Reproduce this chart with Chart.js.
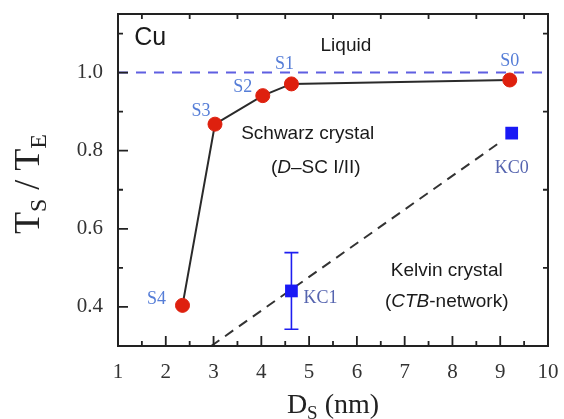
<!DOCTYPE html>
<html><head><meta charset="utf-8">
<script src="https://cdn.jsdelivr.net/npm/chart.js@4.4.1/dist/chart.umd.min.js"></script>
<style>html,body{margin:0;padding:0;background:#fff;}#wrap{width:564px;height:419px;}</style>
</head><body><div id="wrap"><canvas id="c" width="564" height="419"></canvas></div>
<script>
// ---- data ----
const schwarzNames = ['S4', 'S3', 'S2', 'S1', 'S0'];
const schwarzSize = [2.35, 3.03, 4.03, 4.63, 9.2];
const schwarzRatio = [0.404, 0.868, 0.941, 0.971, 0.981];
const kelvinNames = ['KC1', 'KC0'];
const kelvinSize = [4.63, 9.24];
const kelvinRatio = [0.441, 0.845];
const kelvinErrLow = [0.343, null];
const kelvinErrHigh = [0.539, null];
const kelvinGuideSize = [2.95, 9.0];
const kelvinGuideRatio = [0.30, 0.822];
const liquidSize = [1, 10];
const liquidRatio = [1.0, 1.0];
const xTickLabels = ['1', '2', '3', '4', '5', '6', '7', '8', '9', '10'];
const yTickLabels = ['0.4', '0.6', '0.8', '1.0'];
const xMinorTicks = [1.5, 2.5, 3.5, 4.5, 5.5, 6.5, 7.5, 8.5, 9.5];
const yMinorTicks = [0.5, 0.7, 0.9, 1.1];

// ---- styling / placement (not data) ----
const labelOffsets = { S4: [-26, -6], S3: [-14, -13], S2: [-20, -8], S1: [-7, -20], S0: [0, -19], KC1: [29, 7], KC0: [0, 35] };
const regionTexts = [
  { at: [1.34, 1.087], align: 'left', size: 25, parts: [['Cu', false]] },
  { at: [5.77, 1.069], align: 'center', size: 19, parts: [['Liquid', false]] },
  { at: [4.97, 0.843], align: 'center', size: 19, parts: [['Schwarz crystal', false]] },
  { at: [5.14, 0.757], align: 'center', size: 19, parts: [['(', false], ['D', true], ['\u2013SC I/II)', false]] },
  { at: [7.88, 0.492], align: 'center', size: 19, parts: [['Kelvin crystal', false]] },
  { at: [7.88, 0.413], align: 'center', size: 19, parts: [['(', false], ['CTB', true], ['-network)', false]] }
];
const SERIF = '"Liberation Serif", "Times New Roman", serif';
const SANS = '"Liberation Sans", Arial, sans-serif';

function pts(xs, ys) { return xs.map((x, i) => ({ x: x, y: ys[i] })); }

function drawParts(ctx, parts, x, y, align) {
  let total = 0;
  parts.forEach(p => { ctx.font = (p[3] ? 'italic ' : '') + p[1] + 'px ' + p[4]; total += ctx.measureText(p[0]).width; });
  let cx = align === 'center' ? x - total / 2 : x;
  parts.forEach(p => {
    ctx.font = (p[3] ? 'italic ' : '') + p[1] + 'px ' + p[4];
    ctx.fillText(p[0], cx, y + (p[2] || 0));
    cx += ctx.measureText(p[0]).width;
  });
}

const decor = {
  id: 'decor',
  beforeDatasetsDraw(chart) {
    const ctx = chart.ctx, xs = chart.scales.x, ys = chart.scales.y;
    ctx.save();
    ctx.strokeStyle = 'rgb(30,30,240)';
    ctx.lineWidth = 1.6;
    kelvinSize.forEach((s, i) => {
      if (kelvinErrLow[i] == null) return;
      const px = xs.getPixelForValue(s);
      const y1 = ys.getPixelForValue(kelvinErrHigh[i]);
      const y2 = ys.getPixelForValue(kelvinErrLow[i]);
      ctx.beginPath();
      ctx.moveTo(px, y1); ctx.lineTo(px, y2);
      ctx.moveTo(px - 7, y1); ctx.lineTo(px + 7, y1);
      ctx.moveTo(px - 7, y2); ctx.lineTo(px + 7, y2);
      ctx.stroke();
    });
    ctx.restore();
  },
  afterDraw(chart) {
    const ctx = chart.ctx, ca = chart.chartArea, xs = chart.scales.x, ys = chart.scales.y;
    ctx.save();
    ctx.strokeStyle = '#222';
    ctx.lineWidth = 2;
    ctx.strokeRect(ca.left, ca.top, ca.right - ca.left, ca.bottom - ca.top);
    ctx.lineWidth = 1.8;
    ctx.beginPath();
    xTickLabels.forEach(t => {
      const px = xs.getPixelForValue(parseFloat(t));
      ctx.moveTo(px, ca.bottom); ctx.lineTo(px, ca.bottom - 10);
    });
    xMinorTicks.forEach(v => {
      const px = xs.getPixelForValue(v);
      ctx.moveTo(px, ca.bottom); ctx.lineTo(px, ca.bottom - 5);
      ctx.moveTo(px, ca.top); ctx.lineTo(px, ca.top + 5);
    });
    yTickLabels.forEach(t => {
      const py = ys.getPixelForValue(parseFloat(t));
      ctx.moveTo(ca.left, py); ctx.lineTo(ca.left + 10, py);
    });
    yMinorTicks.forEach(v => {
      const py = ys.getPixelForValue(v);
      ctx.moveTo(ca.left, py); ctx.lineTo(ca.left + 5, py);
      ctx.moveTo(ca.right, py); ctx.lineTo(ca.right - 5, py);
    });
    ctx.stroke();

    ctx.textAlign = 'center';
    ctx.textBaseline = 'middle';
    ctx.font = '18px ' + SERIF;
    ctx.fillStyle = 'rgb(85,125,215)';
    schwarzNames.forEach((n, i) => {
      const o = labelOffsets[n];
      ctx.fillText(n, xs.getPixelForValue(schwarzSize[i]) + o[0], ys.getPixelForValue(schwarzRatio[i]) + o[1]);
    });
    ctx.fillStyle = 'rgb(85,100,175)';
    kelvinNames.forEach((n, i) => {
      const o = labelOffsets[n];
      ctx.fillText(n, xs.getPixelForValue(kelvinSize[i]) + o[0], ys.getPixelForValue(kelvinRatio[i]) + o[1]);
    });

    ctx.fillStyle = '#1a1a1a';
    ctx.textAlign = 'left';
    regionTexts.forEach(r => {
      const parts = r.parts.map(p => [p[0], r.size, 0, p[1], SANS]);
      drawParts(ctx, parts, xs.getPixelForValue(r.at[0]), ys.getPixelForValue(r.at[1]), r.align);
    });

    ctx.fillStyle = '#222';
    ctx.textBaseline = 'alphabetic';
    drawParts(ctx, [['D', 28, 0, false, SERIF], ['S', 19, 6, false, SERIF], [' (nm)', 28, 0, false, SERIF]],
      (ca.left + ca.right) / 2, 413, 'center');
    ctx.save();
    ctx.translate(39, (ca.top + ca.bottom) / 2 + 4);
    ctx.rotate(-Math.PI / 2);
    drawParts(ctx, [['T', 36, 0, false, SERIF], ['S', 24, 7, false, SERIF], [' / ', 36, 0, false, SERIF], ['T', 36, 0, false, SERIF], ['E', 24, 7, false, SERIF]],
      0, 0, 'center');
    ctx.restore();
    ctx.restore();
  }
};

new Chart(document.getElementById('c'), {
  type: 'scatter',
  data: {
    datasets: [
      {
        label: 'Schwarz', data: pts(schwarzSize, schwarzRatio), showLine: true,
        borderColor: '#2a2a2a', borderWidth: 2, pointRadius: 7, pointHoverRadius: 7,
        pointBackgroundColor: 'rgb(222,32,14)', pointBorderColor: 'rgb(222,32,14)', pointBorderWidth: 1, order: 1
      },
      {
        label: 'Kelvin', data: pts(kelvinSize, kelvinRatio), showLine: false,
        pointStyle: 'rect', pointRadius: 9, pointHoverRadius: 9,
        pointBackgroundColor: 'rgb(25,25,245)', pointBorderColor: 'rgb(25,25,245)', pointBorderWidth: 0, order: 0
      },
      {
        label: 'KelvinGuide', data: pts(kelvinGuideSize, kelvinGuideRatio), showLine: true,
        borderColor: '#333', borderWidth: 2, borderDash: [10, 7], pointRadius: 0, order: 2
      },
      {
        label: 'Liquid', data: pts(liquidSize, liquidRatio), showLine: true,
        borderColor: 'rgb(95,95,225)', borderWidth: 2, borderDash: [10, 8], pointRadius: 0, order: 3
      }
    ]
  },
  options: {
    responsive: false,
    devicePixelRatio: 1,
    animation: false,
    layout: { padding: { top: 14, right: 16, left: 0, bottom: 0 } },
    plugins: { legend: { display: false }, tooltip: { enabled: false } },
    scales: {
      x: {
        type: 'linear', min: 1, max: 10,
        grid: { display: false, drawTicks: false },
        border: { display: false },
        ticks: {
          stepSize: 1, padding: 14, color: '#333', font: { family: SERIF, size: 21 },
          callback: v => xTickLabels.includes(String(v)) ? String(v) : ''
        },
        afterFit: s => { s.height = 73; s.paddingLeft = 0; s.paddingRight = 0; }
      },
      y: {
        type: 'linear', min: 0.3, max: 1.15,
        grid: { display: false, drawTicks: false },
        border: { display: false },
        ticks: {
          stepSize: 0.2, padding: 15, color: '#333', font: { family: SERIF, size: 21 },
          callback: v => { const s = (Math.round(v * 10) / 10).toFixed(1); return (Math.abs(v * 10 - Math.round(v * 10)) < 1e-6 && yTickLabels.includes(s)) ? s : ''; }
        },
        afterFit: s => { s.width = 118; s.paddingTop = 0; s.paddingBottom = 0; }
      }
    }
  },
  plugins: [decor]
});
</script>
</body></html>
